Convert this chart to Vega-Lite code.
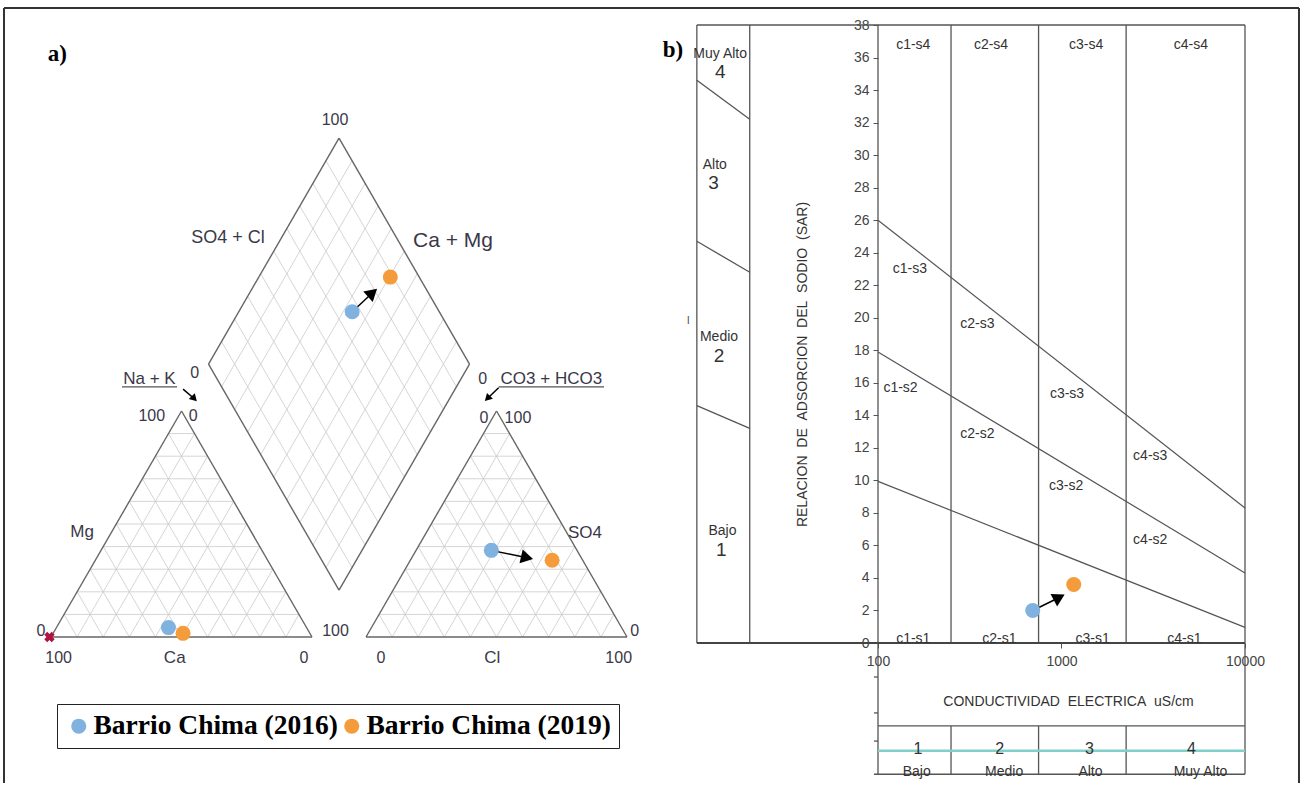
{
  "$schema": "https://vega.github.io/schema/vega-lite/v6.json",
  "padding": {"left": 3, "top": 6, "right": 0, "bottom": 0},
  "background": "white",
  "bounds": "flush",
  "spacing": 238,
  "config": {
    "view": {"stroke": null},
    "font": "Liberation Sans",
    "axis": {"labelFont": "Liberation Sans", "titleFont": "Liberation Sans"}
  },
  "hconcat": [
    {
      "width": 610,
      "height": 736,
      "encoding": {
        "x": {"field": "x", "type": "quantitative", "scale": {"domain": [-8.05, 225.67], "nice": false, "zero": false}, "axis": null},
        "y": {"field": "y", "type": "quantitative", "scale": {"domain": [-47.5, 234.48], "nice": false, "zero": false}, "axis": null}
      },
      "layer": [
        {
          "data": {"values": [
            {"x":5,"y":8.66,"x2":95,"y2":8.66},{"x":10,"y":17.32,"x2":90,"y2":17.32},{"x":15,"y":25.98,"x2":85,"y2":25.98},{"x":20,"y":34.64,"x2":80,"y2":34.64},{"x":25,"y":43.3,"x2":75,"y2":43.3},{"x":30,"y":51.96,"x2":70,"y2":51.96},{"x":35,"y":60.62,"x2":65,"y2":60.62},{"x":40,"y":69.28,"x2":60,"y2":69.28},{"x":45,"y":77.94,"x2":55,"y2":77.94},
            {"x":10,"y":0,"x2":55,"y2":77.94},{"x":20,"y":0,"x2":60,"y2":69.28},{"x":30,"y":0,"x2":65,"y2":60.62},{"x":40,"y":0,"x2":70,"y2":51.96},{"x":50,"y":0,"x2":75,"y2":43.3},{"x":60,"y":0,"x2":80,"y2":34.64},{"x":70,"y":0,"x2":85,"y2":25.98},{"x":80,"y":0,"x2":90,"y2":17.32},{"x":90,"y":0,"x2":95,"y2":8.66},
            {"x":10,"y":0,"x2":5,"y2":8.66},{"x":20,"y":0,"x2":10,"y2":17.32},{"x":30,"y":0,"x2":15,"y2":25.98},{"x":40,"y":0,"x2":20,"y2":34.64},{"x":50,"y":0,"x2":25,"y2":43.3},{"x":60,"y":0,"x2":30,"y2":51.96},{"x":70,"y":0,"x2":35,"y2":60.62},{"x":80,"y":0,"x2":40,"y2":69.28},{"x":90,"y":0,"x2":45,"y2":77.94},
            {"x":125.7,"y":8.66,"x2":215.7,"y2":8.66},{"x":130.7,"y":17.32,"x2":210.7,"y2":17.32},{"x":135.7,"y":25.98,"x2":205.7,"y2":25.98},{"x":140.7,"y":34.64,"x2":200.7,"y2":34.64},{"x":145.7,"y":43.3,"x2":195.7,"y2":43.3},{"x":150.7,"y":51.96,"x2":190.7,"y2":51.96},{"x":155.7,"y":60.62,"x2":185.7,"y2":60.62},{"x":160.7,"y":69.28,"x2":180.7,"y2":69.28},{"x":165.7,"y":77.94,"x2":175.7,"y2":77.94},
            {"x":130.7,"y":0,"x2":175.7,"y2":77.94},{"x":140.7,"y":0,"x2":180.7,"y2":69.28},{"x":150.7,"y":0,"x2":185.7,"y2":60.62},{"x":160.7,"y":0,"x2":190.7,"y2":51.96},{"x":170.7,"y":0,"x2":195.7,"y2":43.3},{"x":180.7,"y":0,"x2":200.7,"y2":34.64},{"x":190.7,"y":0,"x2":205.7,"y2":25.98},{"x":200.7,"y":0,"x2":210.7,"y2":17.32},{"x":210.7,"y":0,"x2":215.7,"y2":8.66},
            {"x":130.7,"y":0,"x2":125.7,"y2":8.66},{"x":140.7,"y":0,"x2":130.7,"y2":17.32},{"x":150.7,"y":0,"x2":135.7,"y2":25.98},{"x":160.7,"y":0,"x2":140.7,"y2":34.64},{"x":170.7,"y":0,"x2":145.7,"y2":43.3},{"x":180.7,"y":0,"x2":150.7,"y2":51.96},{"x":190.7,"y":0,"x2":155.7,"y2":60.62},{"x":200.7,"y":0,"x2":160.7,"y2":69.28},{"x":210.7,"y":0,"x2":165.7,"y2":77.94},
            {"x":115.35,"y":26.59,"x2":65.35,"y2":113.19},{"x":120.35,"y":35.25,"x2":70.35,"y2":121.85},{"x":125.35,"y":43.91,"x2":75.35,"y2":130.51},{"x":130.35,"y":52.57,"x2":80.35,"y2":139.17},{"x":135.35,"y":61.23,"x2":85.35,"y2":147.83},{"x":140.35,"y":69.89,"x2":90.35,"y2":156.49},{"x":145.35,"y":78.55,"x2":95.35,"y2":165.15},{"x":150.35,"y":87.21,"x2":100.35,"y2":173.81},{"x":155.35,"y":95.87,"x2":105.35,"y2":182.47},
            {"x":105.35,"y":26.59,"x2":155.35,"y2":113.19},{"x":100.35,"y":35.25,"x2":150.35,"y2":121.85},{"x":95.35,"y":43.91,"x2":145.35,"y2":130.51},{"x":90.35,"y":52.57,"x2":140.35,"y2":139.17},{"x":85.35,"y":61.23,"x2":135.35,"y2":147.83},{"x":80.35,"y":69.89,"x2":130.35,"y2":156.49},{"x":75.35,"y":78.55,"x2":125.35,"y2":165.15},{"x":70.35,"y":87.21,"x2":120.35,"y2":173.81},{"x":65.35,"y":95.87,"x2":115.35,"y2":182.47}
          ]},
          "mark": {"type": "rule", "color": "#cacaca", "strokeWidth": 0.8},
          "encoding": {"x2": {"field": "x2"}, "y2": {"field": "y2"}}
        },
        {
          "data": {"values": [
            {"x":0,"y":0,"x2":100,"y2":0},{"x":0,"y":0,"x2":50,"y2":86.6},{"x":100,"y":0,"x2":50,"y2":86.6},
            {"x":120.7,"y":0,"x2":220.7,"y2":0},{"x":120.7,"y":0,"x2":170.7,"y2":86.6},{"x":220.7,"y":0,"x2":170.7,"y2":86.6},
            {"x":110.35,"y":17.93,"x2":60.35,"y2":104.53},{"x":60.35,"y":104.53,"x2":110.35,"y2":191.13},{"x":110.35,"y":191.13,"x2":160.35,"y2":104.53},{"x":160.35,"y":104.53,"x2":110.35,"y2":17.93}
          ]},
          "mark": {"type": "rule", "color": "#666666", "strokeWidth": 1.4},
          "encoding": {"x2": {"field": "x2"}, "y2": {"field": "y2"}}
        },
        {
          "data": {"values": [
            {"x":-18.01,"y":241,"x2":478.16,"y2":241},{"x":-18.01,"y":241,"x2":-18.01,"y2":-55.94},{"x":478.16,"y":241,"x2":478.16,"y2":-55.94}
          ]},
          "mark": {"type": "rule", "color": "#333333", "strokeWidth": 2},
          "encoding": {"x2": {"field": "x2"}, "y2": {"field": "y2"}}
        },
        {
          "data": {"values": [
            {"x":27.2,"y":95.8,"x2":48.3,"y2":95.8},{"x":171.5,"y":95.8,"x2":211.9,"y2":95.8}
          ]},
          "mark": {"type": "rule", "color": "#555555", "strokeWidth": 1.2},
          "encoding": {"x2": {"field": "x2"}, "y2": {"field": "y2"}}
        },
        {
          "data": {"values": [
            {"x":115.4,"y":124.6,"x2":123.2,"y2":131.9},{"x":168.7,"y":33.2,"x2":182.4,"y2":30.4},{"x":50.6,"y":95.0,"x2":54.9,"y2":91.3},{"x":171.5,"y":95.5,"x2":167.2,"y2":91.4}
          ]},
          "mark": {"type": "rule", "color": "black", "strokeWidth": 1.5},
          "encoding": {"x2": {"field": "x2"}, "y2": {"field": "y2"}}
        },
        {
          "data": {"values": [{"x":123.2,"y":131.9}]},
          "mark": {"type": "point", "shape": "triangle-up", "filled": true, "color": "black", "opacity": 1, "size": 200, "angle": 48}
        },
        {
          "data": {"values": [{"x":182.4,"y":30.4}]},
          "mark": {"type": "point", "shape": "triangle-up", "filled": true, "color": "black", "opacity": 1, "size": 200, "angle": 103}
        },
        {
          "data": {"values": [{"x":54.9,"y":91.3}]},
          "mark": {"type": "point", "shape": "triangle-up", "filled": true, "color": "black", "opacity": 1, "size": 70, "angle": 136}
        },
        {
          "data": {"values": [{"x":167.2,"y":91.4}]},
          "mark": {"type": "point", "shape": "triangle-up", "filled": true, "color": "black", "opacity": 1, "size": 70, "angle": 225}
        },
        {
          "data": {"values": [{"x":-0.6,"y":0}]},
          "mark": {"type": "point", "shape": "cross", "filled": true, "color": "#b3123f", "opacity": 1, "size": 110, "angle": 45}
        },
        {
          "data": {"values": [
            {"x":45.0,"y":3.6,"serie":"Barrio Chima (2016)"},{"x":50.6,"y":1.4,"serie":"Barrio Chima (2019)"},
            {"x":168.7,"y":33.2,"serie":"Barrio Chima (2016)"},{"x":192.0,"y":29.4,"serie":"Barrio Chima (2019)"},
            {"x":115.4,"y":124.6,"serie":"Barrio Chima (2016)"},{"x":130.0,"y":137.9,"serie":"Barrio Chima (2019)"}
          ]},
          "mark": {"type": "circle", "size": 225, "opacity": 1},
          "encoding": {
            "color": {"field": "serie", "type": "nominal",
              "scale": {"domain": ["Barrio Chima (2016)", "Barrio Chima (2019)"], "range": ["#80b2e0", "#f49c3c"]},
              "legend": {"orient": "none", "legendX": 27, "legendY": 679, "direction": "horizontal", "title": null,
                "strokeColor": "#222222", "padding": 8, "symbolSize": 225, "symbolType": "circle",
                "labelFont": "Liberation Serif", "labelFontWeight": "bold", "labelFontSize": 27.5, "labelColor": "black",
                "labelLimit": 400, "columnPadding": 0, "labelOffset": 1, "symbolStrokeWidth": 0}}
          }
        },
        {
          "data": {"values": [
            {"x":108.8,"y":197.9,"t":"100"},{"x":55.1,"y":101.3,"t":"0"},{"x":165.4,"y":99.0,"t":"0"},
            {"x":38.6,"y":84.7,"t":"100"},{"x":54.5,"y":84.7,"t":"0"},{"x":165.9,"y":84.0,"t":"0"},{"x":178.9,"y":84.0,"t":"100"},
            {"x":-3.9,"y":2.3,"t":"0"},{"x":109.0,"y":2.3,"t":"100"},{"x":223.6,"y":2.3,"t":"0"},
            {"x":2.9,"y":-7.9,"t":"100"},{"x":96.9,"y":-7.9,"t":"0"},{"x":126.4,"y":-7.9,"t":"0"},{"x":217.5,"y":-7.9,"t":"100"}
          ]},
          "mark": {"type": "text", "fontSize": 16, "color": "#3a3848"},
          "encoding": {"text": {"field": "t"}}
        },
        {
          "data": {"values": [
            {"x":47.4,"y":-7.9,"t":"Ca"},{"x":169.1,"y":-7.9,"t":"Cl"},{"x":11.9,"y":40.3,"t":"Mg"},{"x":204.6,"y":40.0,"t":"SO4"},
            {"x":37.7,"y":98.7,"t":"Na + K"},{"x":191.7,"y":98.7,"t":"CO3 + HCO3"}
          ]},
          "mark": {"type": "text", "fontSize": 17, "color": "#3a3848"},
          "encoding": {"text": {"field": "t"}}
        },
        {
          "data": {"values": [{"x":67.8,"y":152.7,"t":"SO4 + Cl"}]},
          "mark": {"type": "text", "fontSize": 18, "color": "#3a3848"},
          "encoding": {"text": {"field": "t"}}
        },
        {
          "data": {"values": [{"x":154.0,"y":151.7,"t":"Ca + Mg"}]},
          "mark": {"type": "text", "fontSize": 21, "color": "#3a3848"},
          "encoding": {"text": {"field": "t"}}
        },
        {
          "data": {"values": [{"x":2.4,"y":223.5,"t":"a)"}]},
          "mark": {"type": "text", "fontSize": 23, "font": "Liberation Serif", "fontWeight": "bold", "color": "black"},
          "encoding": {"text": {"field": "t"}}
        }
      ]
    },
    {
      "width": 367,
      "height": 618,
      "encoding": {
        "x": {"field": "ec", "type": "quantitative",
          "scale": {"type": "log", "domain": [100, 10000], "nice": false},
          "axis": {"values": [100, 1000, 10000], "format": "d", "title": "CONDUCTIVIDAD\u00a0\u00a0ELECTRICA\u00a0\u00a0uS/cm",
            "titleX": 190, "titleY": 58.7, "titleBaseline": "middle", "titleFontWeight": "normal", "titleFontSize": 14, "titleColor": "#333333",
            "labelFontSize": 14, "labelColor": "#444444", "labelFlush": false, "tickSize": 5, "tickColor": "#555555", "domain": false, "grid": false, "labelPadding": 6}},
        "y": {"field": "sar", "type": "quantitative",
          "scale": {"domain": [0, 38], "nice": false, "zero": false},
          "axis": {"values": [0,2,4,6,8,10,12,14,16,18,20,22,24,26,28,30,32,34,36,38],
            "title": "RELACION\u00a0\u00a0DE\u00a0\u00a0ADSORCION\u00a0\u00a0DEL\u00a0\u00a0SODIO\u00a0\u00a0(SAR)",
            "titleX": -76, "titleY": 339, "titleBaseline": "middle", "titleFontWeight": "normal", "titleFontSize": 14, "titleColor": "#333333",
            "labelFontSize": 14, "labelColor": "#444444", "labelFlush": false, "tickSize": 5, "tickColor": "#555555", "domain": false, "grid": false, "labelPadding": 4}}
      },
      "layer": [
        {
          "data": {"values": [
            {"ec":10.3,"sar":38,"ec2":10000,"sar2":38},
            {"ec":10.3,"sar":0,"ec2":10.3,"sar2":38},
            {"ec":20,"sar":0,"ec2":20,"sar2":38},
            {"ec":100,"sar":-8.07,"ec2":100,"sar2":38},
            {"ec":10000,"sar":-8.07,"ec2":10000,"sar2":38},
            {"ec":250,"sar":0,"ec2":250,"sar2":38},
            {"ec":750,"sar":0,"ec2":750,"sar2":38},
            {"ec":2250,"sar":0,"ec2":2250,"sar2":38},
            {"ec":100,"sar":-5.1,"ec2":10000,"sar2":-5.1},
            {"ec":95.1,"sar":-8.07,"ec2":10000,"sar2":-8.07},
            {"ec":250,"sar":-5.1,"ec2":250,"sar2":-8.07},
            {"ec":750,"sar":-5.1,"ec2":750,"sar2":-8.07},
            {"ec":2250,"sar":-5.1,"ec2":2250,"sar2":-8.07},
            {"ec":95.1,"sar":-2.09,"ec2":100,"sar2":-2.09},
            {"ec":95.1,"sar":-4.3,"ec2":100,"sar2":-4.3},
            {"ec":95.1,"sar":-6.03,"ec2":100,"sar2":-6.03},
            {"ec":10.3,"sar":34.6,"ec2":20,"sar2":32.2},
            {"ec":10.3,"sar":24.7,"ec2":20,"sar2":22.8},
            {"ec":10.3,"sar":14.6,"ec2":20,"sar2":13.2}
          ]},
          "mark": {"type": "rule", "color": "#555555", "strokeWidth": 1.3},
          "encoding": {"x2": {"field": "ec2"}, "y2": {"field": "sar2"}}
        },
        {
          "data": {"values": [{"ec":10.3,"sar":0,"ec2":10000,"sar2":0}]},
          "mark": {"type": "rule", "color": "#444444", "strokeWidth": 2},
          "encoding": {"x2": {"field": "ec2"}, "y2": {"field": "sar2"}}
        },
        {
          "data": {"values": [
            {"ec":100,"sar":9.94,"ec2":10000,"sar2":0.96},
            {"ec":100,"sar":17.9,"ec2":10000,"sar2":4.3},
            {"ec":100,"sar":26,"ec2":10000,"sar2":8.3}
          ]},
          "mark": {"type": "rule", "color": "#555555", "strokeWidth": 1.2},
          "encoding": {"x2": {"field": "ec2"}, "y2": {"field": "sar2"}}
        },
        {
          "data": {"values": [{"ec":100,"sar":-6.62,"ec2":10000,"sar2":-6.62}]},
          "mark": {"type": "rule", "color": "#80cfc9", "strokeWidth": 2.5},
          "encoding": {"x2": {"field": "ec2"}, "y2": {"field": "sar2"}}
        },
        {
          "data": {"values": [
            {"ec":155.7,"sar":36.78,"t":"c1-s4"},{"ec":412.9,"sar":36.78,"t":"c2-s4"},{"ec":1363,"sar":36.78,"t":"c3-s4"},{"ec":5065,"sar":36.78,"t":"c4-s4"},
            {"ec":149.2,"sar":23.02,"t":"c1-s3"},{"ec":347.6,"sar":19.64,"t":"c2-s3"},{"ec":1071.5,"sar":15.3,"t":"c3-s3"},{"ec":3044,"sar":11.5,"t":"c4-s3"},
            {"ec":132.6,"sar":15.7,"t":"c1-s2"},{"ec":347.6,"sar":12.87,"t":"c2-s2"},{"ec":1059,"sar":9.66,"t":"c3-s2"},{"ec":3044,"sar":6.32,"t":"c4-s2"},
            {"ec":155.7,"sar":0.23,"t":"c1-s1"},{"ec":459,"sar":0.23,"t":"c2-s1"},{"ec":1477,"sar":0.23,"t":"c3-s1"},{"ec":4676,"sar":0.23,"t":"c4-s1"}
          ]},
          "mark": {"type": "text", "fontSize": 14, "color": "#333333"},
          "encoding": {"text": {"field": "t"}}
        },
        {
          "data": {"values": [
            {"ec":13.8,"sar":36.2,"t":"Muy Alto"},{"ec":12.9,"sar":29.4,"t":"Alto"},{"ec":13.6,"sar":18.8,"t":"Medio"},{"ec":14.2,"sar":6.9,"t":"Bajo"},
            {"ec":162.6,"sar":-7.92,"t":"Bajo"},{"ec":486.9,"sar":-7.92,"t":"Medio"},{"ec":1438,"sar":-7.92,"t":"Alto"},{"ec":5722,"sar":-7.92,"t":"Muy Alto"}
          ]},
          "mark": {"type": "text", "fontSize": 14, "color": "#333333"},
          "encoding": {"text": {"field": "t"}}
        },
        {
          "data": {"values": [
            {"ec":13.8,"sar":35.1,"t":"4"},{"ec":12.7,"sar":28.3,"t":"3"},{"ec":13.6,"sar":17.65,"t":"2"},{"ec":14.0,"sar":5.7,"t":"1"}
          ]},
          "mark": {"type": "text", "fontSize": 19, "color": "#333333"},
          "encoding": {"text": {"field": "t"}}
        },
        {
          "data": {"values": [
            {"ec":165.3,"sar":-6.5,"t":"1"},{"ec":461,"sar":-6.5,"t":"2"},{"ec":1421,"sar":-6.5,"t":"3"},{"ec":5104,"sar":-6.5,"t":"4"}
          ]},
          "mark": {"type": "text", "fontSize": 16, "color": "#333333"},
          "encoding": {"text": {"field": "t"}}
        },
        {
          "data": {"values": [{"ec":9.24,"sar":19.8,"t":"I"}]},
          "mark": {"type": "text", "fontSize": 11, "color": "#555555"},
          "encoding": {"text": {"field": "t"}}
        },
        {
          "data": {"values": [{"ec":7.64,"sar":36.47,"t":"b)"}]},
          "mark": {"type": "text", "fontSize": 23, "font": "Liberation Serif", "fontWeight": "bold", "color": "black"},
          "encoding": {"text": {"field": "t"}}
        },
        {
          "data": {"values": [{"ec":697,"sar":2.0,"ec2":972,"sar2":2.8}]},
          "mark": {"type": "rule", "color": "black", "strokeWidth": 1.5},
          "encoding": {"x2": {"field": "ec2"}, "y2": {"field": "sar2"}}
        },
        {
          "data": {"values": [{"ec":972,"sar":2.8}]},
          "mark": {"type": "point", "shape": "triangle-up", "filled": true, "color": "black", "opacity": 1, "size": 200, "angle": 62}
        },
        {
          "data": {"values": [
            {"ec":697,"sar":2.0,"serie":"Barrio Chima (2016)"},{"ec":1166,"sar":3.6,"serie":"Barrio Chima (2019)"}
          ]},
          "mark": {"type": "circle", "size": 225, "opacity": 1},
          "encoding": {"color": {"field": "serie", "type": "nominal"}}
        }
      ]
    }
  ]
}
